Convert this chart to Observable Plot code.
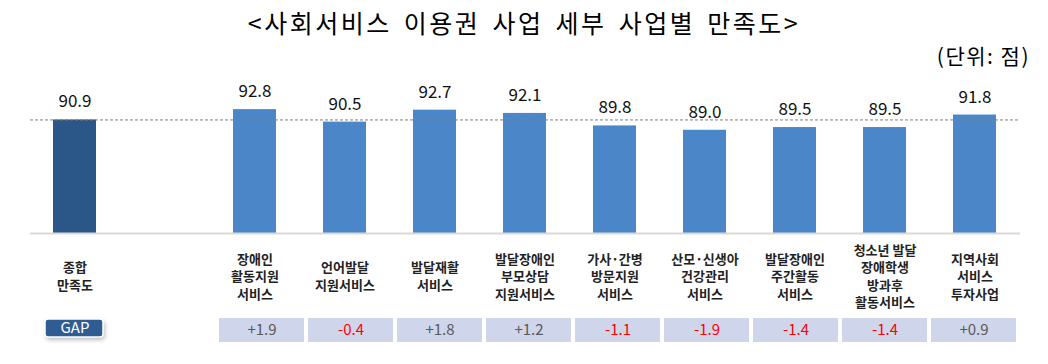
<!DOCTYPE html>
<html><head><meta charset="utf-8">
<script src="https://cdn.jsdelivr.net/npm/d3@7"></script>
<script src="https://cdn.jsdelivr.net/npm/@observablehq/plot@0.6"></script>
<style>
body{margin:0;background:#fff;}
#wrap{position:relative;width:1048px;height:364px;overflow:hidden;font-family:"Noto Sans CJK KR",sans-serif;}
#title{position:absolute;left:0;top:5px;width:1048px;text-align:center;font-size:25px;letter-spacing:2.5px;word-spacing:4px;line-height:34px;color:#000;}
#unit{position:absolute;right:18px;top:41px;font-size:21px;letter-spacing:1.5px;line-height:28px;color:#000;}
#c1{position:absolute;left:0;top:64px;}
#c2{position:absolute;left:0;top:312px;}
</style></head>
<body><div id="wrap"><div id="title">&lt;사회서비스 이용권 사업 세부 사업별 만족도&gt;</div><div id="unit">(단위: 점)</div><div id="c1"></div><div id="c2"></div></div>
<script>
const categories = ["종합\n만족도", "", "장애인\n활동지원\n서비스", "언어발달\n지원서비스", "발달재활\n서비스", "발달장애인\n부모상담\n지원서비스", "가사·간병\n방문지원\n서비스", "산모·신생아\n건강관리\n서비스", "발달장애인\n주간활동\n서비스", "청소년 발달\n장애학생\n방과후\n활동서비스", "지역사회\n서비스\n투자사업"];
const scores = [90.9, null, 92.8, 90.5, 92.7, 92.1, 89.8, 89.0, 89.5, 89.5, 91.8];
const gaps = [null, null, "+1.9", "-0.4", "+1.8", "+1.2", "-1.1", "-1.9", "-1.4", "-1.4", "+0.9"];
const gapLabel = "GAP";
const overall = scores[0];

const font = "'Noto Sans CJK KR', sans-serif";
const bars = categories.map((c, i) => ({c, v: scores[i], overall: i === 0})).filter(d => d.v != null);
const labels = categories.filter(c => c);
const gapRows = categories.map((c, i) => ({c, g: gaps[i]})).filter(d => d.g);

const chart1 = Plot.plot({
  width: 1048, height: 248,
  marginTop: 6, marginBottom: 79, marginLeft: 30, marginRight: 28,
  x: {domain: categories, paddingInner: 0.52, paddingOuter: 0.26, axis: null},
  y: {domain: [70, 100], axis: null},
  style: {fontFamily: font, background: "transparent", overflow: "visible"},
  marks: [
    Plot.barY(bars, {x: "c", y1: 70, y2: "v", fill: d => d.overall ? "#2A5788" : "#4A86C8"}),
    Plot.ruleY([overall], {stroke: "#7f7f7f", strokeDasharray: "3,2", strokeWidth: 1}),
    Plot.ruleY([70], {stroke: "#D9D9D9", strokeWidth: 2}),
    Plot.text(bars, {x: "c", y: "v", text: d => d.v.toFixed(1), dy: -18, fontSize: 17, fill: "#111"}),
    Plot.text(labels, {x: d => d, y: 70, text: d => d, dy: 42, fontSize: 13, fontWeight: "bold", lineHeight: 1.35, lineAnchor: "middle", fill: "#222"})
  ]
});
document.getElementById("c1").appendChild(chart1);

const chart2 = Plot.plot({
  width: 1048, height: 40,
  marginTop: 6, marginBottom: 10, marginLeft: 36, marginRight: 26,
  x: {domain: categories, paddingInner: 0.04, paddingOuter: 0.02, axis: null},
  y: {domain: [gapLabel], axis: null, padding: 0},
  style: {fontFamily: font, background: "transparent", overflow: "visible"},
  marks: [
    Plot.cell(gapRows, {x: "c", y: () => gapLabel, fill: "#CFD5EA"}),
    Plot.text(gapRows, {x: "c", y: () => gapLabel, text: "g", fill: d => d.g.startsWith("-") ? "#FF0000" : "#595959", fontSize: 15}),
    Plot.cell([categories[0]], {x: d => d, y: () => gapLabel, fill: "#888", fillOpacity: 0.55, insetLeft: 5, insetRight: 21, insetTop: 3, insetBottom: 2, rx: 4, imageFilter: "blur(2px)"}),
    Plot.cell([categories[0]], {x: d => d, y: () => gapLabel, fill: "#2F5C93", stroke: "white", strokeWidth: 1.5, rx: 3, insetLeft: 4, insetRight: 23, insetTop: 1, insetBottom: 5}),
    Plot.text([categories[0]], {x: d => d, y: () => gapLabel, text: () => gapLabel, fill: "white", fontSize: 15, dx: -9, dy: -2})
  ]
});
document.getElementById("c2").appendChild(chart2);
</script>
</body></html>
